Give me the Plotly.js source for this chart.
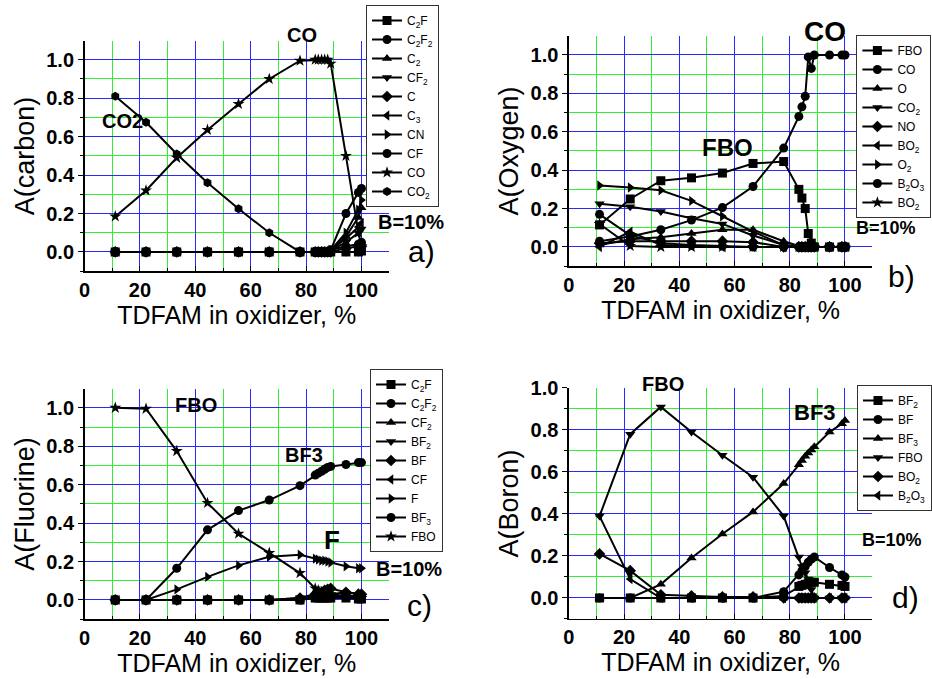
<!DOCTYPE html>
<html><head><meta charset="utf-8">
<script src="https://cdn.plot.ly/plotly-3.0.1.min.js"></script>
<style>html,body{margin:0;padding:0;background:#fff}#g{width:932px;height:679px}</style>
</head><body><div id="g"></div>
<script>
// TDFAM content in oxidizer, %
const X = [11.1, 22.2, 33.3, 44.4, 55.6, 66.7, 77.8, 83.3, 84.4, 85.6, 86.7, 87.8, 88.9, 94.4, 98.9, 100];

// a) carbon
const aC2F  = [0,0,0,0,0,0,0,0,0,0,0,0,0,0,0,0.005];
const aC2F2 = [0,0,0,0,0,0,0,0,0,0,0,0,0.01,0.03,0.04,0.05];
const aC2   = [0,0,0,0,0,0,0,0,0,0,0,0,0.01,0.08,0.18,0.23];
const aCF2  = [0,0,0,0,0,0,0,0,0,0,0,0,0.01,0.05,0.1,0.12];
const aC    = [0,0,0,0,0,0,0,0,0,0,0,0,0,0.02,0.03,0.03];
const aC3   = [0,0,0,0,0,0,0,0,0,0,0,0,0.01,0.07,0.13,0.15];
const aCN   = [0,0,0,0,0,0,0,0,0,0,0,0,0.01,0.1,0.22,0.27];
const aCF   = [0,0,0,0,0,0,0,0,0,0,0,0,0.01,0.2,0.31,0.33];
const aCO   = [0.185,0.32,0.49,0.635,0.77,0.9,0.995,1,1,1,1,1,0.98,0.5,0.1,0.03];
const aCO2  = [0.81,0.675,0.51,0.36,0.225,0.1,0,0,0,0,0,0,0,0,0,0.04];

// b) oxygen
const bFBO  = [0.115,0.25,0.345,0.36,0.385,0.435,0.445,0.30,0.255,0.2,0.07,0.02,0,0,0,0];
const bCO   = [0.03,0.055,0.09,0.14,0.205,0.315,0.515,0.68,0.73,0.785,0.99,0.93,1.0,1.0,1.0,1.0];
const bO    = [0.01,0.04,0.05,0.07,0.09,0.09,0.03,0.005,0,0,0,0.03,0,0,0,0];
const bCO2  = [0.225,0.21,0.185,0.15,0.12,0.06,0.01,0,0,0,0,0,0,0,0,0];
const bNO   = [0.02,0.03,0.03,0.03,0.03,0.025,0,0,0,0,0,0,0,0,0,0];
const bBO2a = [0,0.08,0.01,0.005,0,0,0,0,0,0,0,0,0,0,0,0];
const bO2   = [0.32,0.31,0.295,0.24,0.16,0.08,0.01,0,0,0,0,0,0,0,0,0];
const bB2O3 = [0.17,0.06,0.02,0.01,0.005,0,0,0,0,0,0,0,0,0,0,0];
const bBO2b = [0.12,0.005,0,0,0,0,0,0,0,0,0,0,0,0,0,0];

// c) fluorine
const cC2F  = [0,0,0,0,0,0,0,0.01,0.01,0.01,0.01,0.01,0.01,0.01,0.005,0.005];
const cC2F2 = [0,0,0,0,0,0,0,0.02,0.02,0.02,0.02,0.02,0.02,0.02,0.01,0.01];
const cCF2  = [0,0,0,0,0,0,0,0.03,0.03,0.03,0.03,0.03,0.03,0.04,0.03,0.03];
const cBF2  = [0,0,0,0,0,0,0.01,0.02,0.02,0.02,0.025,0.025,0.025,0.02,0.02,0.02];
const cBF   = [0,0,0,0,0,0,0.01,0.03,0.035,0.04,0.05,0.055,0.06,0.04,0.03,0.03];
const cCF   = [0,0,0,0,0,0,0,0.02,0.02,0.02,0.02,0.02,0.02,0.02,0.02,0.02];
const cF    = [0,0,0.055,0.12,0.18,0.225,0.235,0.215,0.21,0.205,0.205,0.2,0.195,0.175,0.165,0.165];
const cBF3  = [0,0,0.165,0.365,0.465,0.52,0.595,0.65,0.66,0.67,0.68,0.69,0.695,0.705,0.715,0.715];
const cFBO  = [1.0,0.995,0.775,0.505,0.345,0.245,0.14,0.06,0.05,0.04,0.04,0.03,0.03,0.02,0.01,0.01];

// d) boron
const dBF2  = [0,0,0,0,0,0,0.01,0.055,0.06,0.065,0.07,0.075,0.075,0.065,0.06,0.055];
const dBF   = [0,0,0,0,0,0,0.03,0.11,0.13,0.15,0.17,0.185,0.195,0.145,0.11,0.10];
const dBF3  = [0,0,0.065,0.19,0.305,0.41,0.545,0.635,0.655,0.675,0.69,0.705,0.72,0.79,0.83,0.845];
const dFBO  = [0.39,0.78,0.91,0.79,0.68,0.575,0.39,0.195,0.15,0.12,0.09,0.04,0,0,0,0];
const dBO2  = [0.21,0.13,0.015,0.01,0.005,0.005,0,0,0,0,0,0,0,0,0,0];
const dB2O3 = [0.39,0.09,0,0,0,0,0,0,0,0,0,0,0,0,0,0];

const xTitle = 'TDFAM in oxidizer, %';
const yTitles = ['A(carbon)', 'A(Oxygen)', 'A(Fluorine)', 'A(Boron)'];

function tr(name, y, sym, k) {
  const ax = k === 1 ? '' : String(k);
  return {
    type: 'scatter', mode: 'lines+markers', name: name, x: X, y: y,
    xaxis: 'x' + ax, yaxis: 'y' + ax, legend: 'legend' + ax,
    line: {color: '#000', width: 2},
    marker: {symbol: sym, size: 9, color: '#000'},
    cliponaxis: false
  };
}

const data = [
  tr('C<sub>2</sub>F', aC2F, 'square', 1),
  tr('C<sub>2</sub>F<sub>2</sub>', aC2F2, 'circle', 1),
  tr('C<sub>2</sub>', aC2, 'triangle-up', 1),
  tr('CF<sub>2</sub>', aCF2, 'triangle-down', 1),
  tr('C', aC, 'diamond', 1),
  tr('C<sub>3</sub>', aC3, 'triangle-left', 1),
  tr('CN', aCN, 'triangle-right', 1),
  tr('CF', aCF, 'circle', 1),
  tr('CO', aCO, 'star', 1),
  tr('CO<sub>2</sub>', aCO2, 'hexagon', 1),

  tr('FBO', bFBO, 'square', 2),
  tr('CO', bCO, 'circle', 2),
  tr('O', bO, 'triangle-up', 2),
  tr('CO<sub>2</sub>', bCO2, 'triangle-down', 2),
  tr('NO', bNO, 'diamond', 2),
  tr('BO<sub>2</sub>', bBO2a, 'triangle-left', 2),
  tr('O<sub>2</sub>', bO2, 'triangle-right', 2),
  tr('B<sub>2</sub>O<sub>3</sub>', bB2O3, 'circle', 2),
  tr('BO<sub>2</sub>', bBO2b, 'star', 2),

  tr('C<sub>2</sub>F', cC2F, 'square', 3),
  tr('C<sub>2</sub>F<sub>2</sub>', cC2F2, 'circle', 3),
  tr('CF<sub>2</sub>', cCF2, 'triangle-up', 3),
  tr('BF<sub>2</sub>', cBF2, 'triangle-down', 3),
  tr('BF', cBF, 'diamond', 3),
  tr('CF', cCF, 'triangle-left', 3),
  tr('F', cF, 'triangle-right', 3),
  tr('BF<sub>3</sub>', cBF3, 'circle', 3),
  tr('FBO', cFBO, 'star', 3),

  tr('BF<sub>2</sub>', dBF2, 'square', 4),
  tr('BF', dBF, 'circle', 4),
  tr('BF<sub>3</sub>', dBF3, 'triangle-up', 4),
  tr('FBO', dFBO, 'triangle-down', 4),
  tr('BO<sub>2</sub>', dBO2, 'diamond', 4),
  tr('B<sub>2</sub>O<sub>3</sub>', dB2O3, 'triangle-left', 4)
];

const FONT = 'Arial, "Liberation Sans", sans-serif';
const BLUE = '#2a2aff', GREEN = '#33ee33';
const XR = [0, 109.9];

function xax(dom, anchor) {
  return {
    domain: dom, anchor: anchor, range: XR, tick0: 0, dtick: 20,
    showgrid: true, gridcolor: BLUE, gridwidth: 1,
    minor: {dtick: 10, showgrid: true, gridcolor: GREEN, gridwidth: 1, ticks: 'inside', ticklen: 3, tickcolor: '#000'},
    showline: true, linecolor: '#000', linewidth: 1.5, zeroline: false,
    ticks: 'inside', ticklen: 5, tickcolor: '#000',
    tickfont: {family: FONT, size: 20, weight: 'bold', color: '#000'},
    title: {text: xTitle, font: {family: FONT, size: 25, color: '#000'}, standoff: 5}
  };
}
function yax(dom, anchor, title, top) {
  return {
    domain: dom, anchor: anchor, range: [-0.1, top], tick0: 0, dtick: 0.2, tickformat: '.1f',
    showgrid: true, gridcolor: BLUE, gridwidth: 1,
    minor: {dtick: 0.1, showgrid: true, gridcolor: GREEN, gridwidth: 1, ticks: 'outside', ticklen: 3, tickcolor: '#000'},
    showline: true, linecolor: '#000', linewidth: 1.5, zeroline: false,
    ticks: 'outside', ticklen: 5, tickcolor: '#000',
    tickfont: {family: FONT, size: 20, weight: 'bold', color: '#000'},
    title: {text: title, font: {family: FONT, size: 27, color: '#000'}, standoff: 4}
  };
}
function leg(x, y) {
  return {x: x, y: y, xanchor: 'left', yanchor: 'top', bgcolor: '#fff', bordercolor: '#333', borderwidth: 1,
    font: {family: FONT, size: 12, color: '#000'}, tracegroupgap: 0, itemwidth: 30};
}

const XA = [0.0912, 0.4195], XB = [0.6137, 0.941];
const YD = [[0.6006, 0.940], [0.608, 0.947], [0.0881, 0.4274], [0.0884, 0.4286]];
const XD = [XA, XB, XA, XB];
const TOPS = [1.099, 1.099, 1.099, 1.0];

// place a text label given in data units of panel k, converted to paper units (so it may sit outside the axes)
function ann(text, x, y, k, size, bold) {
  const dx = XD[k - 1], dy = YD[k - 1], top = TOPS[k - 1];
  const px = dx[0] + (x - XR[0]) / (XR[1] - XR[0]) * (dx[1] - dx[0]);
  const py = dy[0] + (y + 0.1) / (top + 0.1) * (dy[1] - dy[0]);
  return {text: bold ? '<b>' + text + '</b>' : text, x: px, y: py, xref: 'paper', yref: 'paper',
    xanchor: 'center', yanchor: 'middle', showarrow: false, font: {family: FONT, size: size, color: '#000'}};
}

const layout = {
  width: 932, height: 679, margin: {l: 0, r: 0, t: 0, b: 0},
  paper_bgcolor: '#fff', plot_bgcolor: '#fff', showlegend: true,
  font: {family: FONT, color: '#000'},
  xaxis: xax(XA, 'y'), yaxis: yax(YD[0], 'x', yTitles[0], TOPS[0]),
  xaxis2: xax(XB, 'y2'), yaxis2: yax(YD[1], 'x2', yTitles[1], TOPS[1]),
  xaxis3: xax(XA, 'y3'), yaxis3: yax(YD[2], 'x3', yTitles[2], TOPS[2]),
  xaxis4: xax(XB, 'y4'), yaxis4: yax(YD[3], 'x4', yTitles[3], TOPS[3]),
  legend: leg(368/932, 1 - 5/679),
  legend2: leg(861/932, 1 - 35/679),
  legend3: leg(372/932, 1 - 369/679),
  legend4: leg(862/932, 1 - 385/679),
  annotations: [
    ann('CO', 78.5, 1.13, 1, 20, true),
    ann('CO2', 13.8, 0.68, 1, 20, true),
    ann('B=10%', 118, 0.156, 1, 20, true),
    ann('a)', 121.6, 0.005, 1, 30, false),
    ann('CO', 92.8, 1.12, 2, 28, true),
    ann('FBO', 57.4, 0.52, 2, 24, true),
    ann('B=10%', 115, 0.1, 2, 18, true),
    ann('b)', 120.6, -0.155, 2, 30, false),
    ann('FBO', 40.3, 1.015, 3, 20, true),
    ann('BF3', 79.1, 0.755, 3, 20, true),
    ann('F', 89.3, 0.31, 3, 26, true),
    ann('B=10%', 117, 0.16, 3, 20, true),
    ann('c)', 121, -0.03, 3, 30, false),
    ann('FBO', 34, 1.02, 4, 20, true),
    ann('BF3', 89.2, 0.885, 4, 22, true),
    ann('B=10%', 117, 0.275, 4, 18, true),
    ann('d)', 122, 0.0, 4, 30, false)
  ]
};

Plotly.newPlot('g', data, layout, {staticPlot: true, displayModeBar: false});
</script>
</body></html>
